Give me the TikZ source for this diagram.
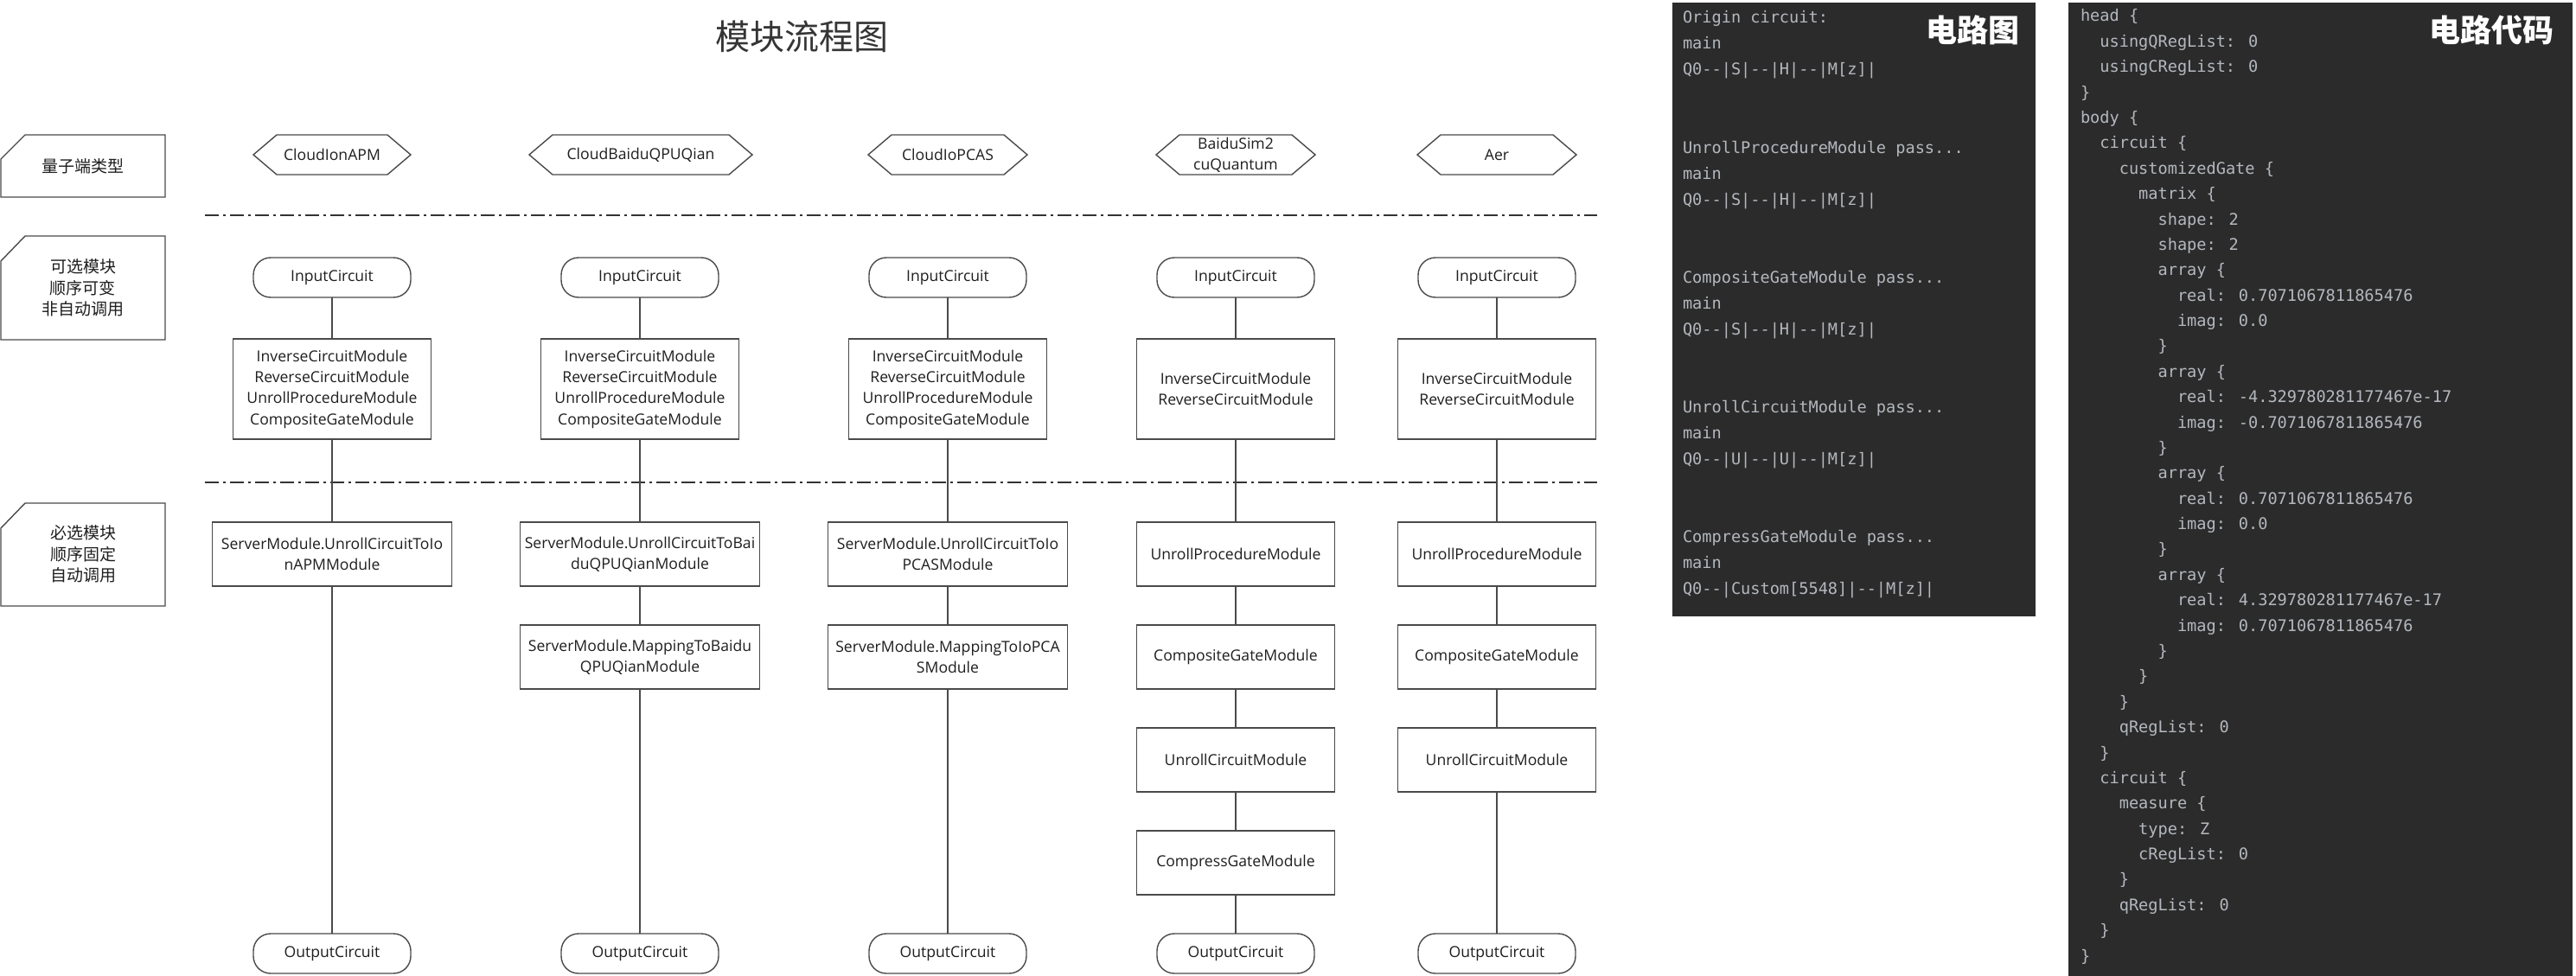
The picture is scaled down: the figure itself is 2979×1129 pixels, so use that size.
\documentclass[tikz,border=0pt]{standalone}
\usepackage{fontspec}
\setmainfont{Open Sans}
\newfontfamily\cjk{Noto Sans CJK SC}
\newfontfamily\codefont{DejaVu Sans Mono}
\usetikzlibrary{calc}

\definecolor{ink}{HTML}{1E1E1E}
\definecolor{edge}{HTML}{4A4A4A}
\definecolor{panel}{HTML}{2B2B2B}
\definecolor{code}{HTML}{B4B8BE}

% hexagon: centre x, centre y, half width, name, text
\newcommand\hexnode[5]{%
  \path[hexline] (#1-#3,#2) -- (#1-#3+27,#2-23) -- (#1+#3-27,#2-23)
    -- (#1+#3,#2) -- (#1+#3-27,#2+23) -- (#1-#3+27,#2+23) -- cycle;
  \node[hexlabel, minimum width=2*#3] (#4) at (#1,#2) {#5};}

\begin{document}
\begin{tikzpicture}[x=1pt,y=-1pt,
  every node/.style={inner sep=0pt, outer sep=0pt, text=ink},
  latin/.style={font=\fontsize{17.6}{24.3}\selectfont, align=center},
  modbox/.style={latin, draw=edge, line width=1.4pt, fill=white, minimum height=74pt},
  optbox/.style={modbox, minimum width=229pt, minimum height=116pt},
  srvbox/.style={modbox, minimum width=277pt},
  stdbox/.style={modbox, minimum width=229pt},
  terminal/.style={latin, draw=edge, line width=1.4pt, fill=white, rounded corners=20pt,
    minimum width=182pt, minimum height=46pt},
  hexlabel/.style={latin, minimum height=46pt},
  hexline/.style={draw=edge, line width=1.4pt, fill=white},
  tagline/.style={draw=edge, line width=1.4pt, fill=white},
  flow/.style={draw=edge, line width=1.3pt},
  divider/.style={draw=black!80, line width=2.4pt, dash pattern=on 16pt off 5pt on 3pt off 5pt},
  sidelabel/.style={font=\cjk\fontsize{19}{24.5}\selectfont, align=center},
  codeline/.style={font=\codefont\fontsize{18.6}{29.4}\selectfont, text=code, anchor=base west},
  panelhead/.style={font=\cjk\bfseries\fontsize{36}{36}\selectfont, text=white},
]
\useasboundingbox (0,0) rectangle (2979,1129);
\fill[white] (0,0) rectangle (2979,1129);

% title
\node[font=\cjk\fontsize{40}{40}\selectfont, text=ink!90] (title) at (927,42) {模块流程图};

% row labels on the left
\path[tagline] (29,156) -- (191,156) -- (191,228) -- (1,228) -- (1,184) -- cycle;
\node[sidelabel] (lab1) at (96,192) {量子端类型};
\path[tagline] (29,273) -- (191,273) -- (191,393) -- (1,393) -- (1,302) -- cycle;
\node[sidelabel] (lab2) at (96,333) {可选模块\\顺序可变\\非自动调用};
\path[tagline] (29,582) -- (191,582) -- (191,701) -- (1,701) -- (1,611) -- cycle;
\node[sidelabel] (lab3) at (96,641) {必选模块\\顺序固定\\自动调用};

% section dividers
\coordinate (dl1) at (237,249);
\coordinate (dr1) at (1847,249);
\coordinate (dl2) at (237,558);
\coordinate (dr2) at (1847,558);
\draw[divider] (dl1) -- (dr1);
\draw[divider] (dl2) -- (dr2);

% backend types
\hexnode{384}{179}{91}{h1}{CloudIonAPM}
\hexnode{741}{179}{129}{h2}{CloudBaiduQPUQian}
\hexnode{1096}{179}{92}{h3}{CloudIoPCAS}
\hexnode{1429}{179}{92}{h4}{BaiduSim2\\cuQuantum}
\hexnode{1731}{179}{92}{h5}{Aer}

% inputs
\node[terminal] (in1) at (384,321) {InputCircuit};
\node[terminal] (in2) at (740,321) {InputCircuit};
\node[terminal] (in3) at (1096,321) {InputCircuit};
\node[terminal] (in4) at (1429,321) {InputCircuit};
\node[terminal] (in5) at (1731,321) {InputCircuit};

% optional modules
\node[optbox] (opt1) at (384,450) {InverseCircuitModule\\ReverseCircuitModule\\UnrollProcedureModule\\CompositeGateModule};
\node[optbox] (opt2) at (740,450) {InverseCircuitModule\\ReverseCircuitModule\\UnrollProcedureModule\\CompositeGateModule};
\node[optbox] (opt3) at (1096,450) {InverseCircuitModule\\ReverseCircuitModule\\UnrollProcedureModule\\CompositeGateModule};
\node[optbox] (opt4) at (1429,450) {InverseCircuitModule\\ReverseCircuitModule};
\node[optbox] (opt5) at (1731,450) {InverseCircuitModule\\ReverseCircuitModule};

% required modules
\node[srvbox] (m1a) at (384,641) {ServerModule.UnrollCircuitToIo\\nAPMModule};
\node[srvbox] (m2a) at (740,641) {ServerModule.UnrollCircuitToBai\\duQPUQianModule};
\node[srvbox] (m2b) at (740,760) {ServerModule.MappingToBaidu\\QPUQianModule};
\node[srvbox] (m3a) at (1096,641) {ServerModule.UnrollCircuitToIo\\PCASModule};
\node[srvbox] (m3b) at (1096,760) {ServerModule.MappingToIoPCA\\SModule};
\node[stdbox] (m4a) at (1429,641) {UnrollProcedureModule};
\node[stdbox] (m4b) at (1429,760) {CompositeGateModule};
\node[stdbox] (m4c) at (1429,879) {UnrollCircuitModule};
\node[stdbox] (m4d) at (1429,998) {CompressGateModule};
\node[stdbox] (m5a) at (1731,641) {UnrollProcedureModule};
\node[stdbox] (m5b) at (1731,760) {CompositeGateModule};
\node[stdbox] (m5c) at (1731,879) {UnrollCircuitModule};

% outputs
\node[terminal] (out1) at (384,1103) {OutputCircuit};
\node[terminal] (out2) at (740,1103) {OutputCircuit};
\node[terminal] (out3) at (1096,1103) {OutputCircuit};
\node[terminal] (out4) at (1429,1103) {OutputCircuit};
\node[terminal] (out5) at (1731,1103) {OutputCircuit};

% flows
\draw[flow] (in1) -- (opt1);
\draw[flow] (opt1) -- (m1a);
\draw[flow] (m1a) -- (out1);
\draw[flow] (in2) -- (opt2);
\draw[flow] (opt2) -- (m2a);
\draw[flow] (m2a) -- (m2b);
\draw[flow] (m2b) -- (out2);
\draw[flow] (in3) -- (opt3);
\draw[flow] (opt3) -- (m3a);
\draw[flow] (m3a) -- (m3b);
\draw[flow] (m3b) -- (out3);
\draw[flow] (in4) -- (opt4);
\draw[flow] (opt4) -- (m4a);
\draw[flow] (m4a) -- (m4b);
\draw[flow] (m4b) -- (m4c);
\draw[flow] (m4c) -- (m4d);
\draw[flow] (m4d) -- (out4);
\draw[flow] (in5) -- (opt5);
\draw[flow] (opt5) -- (m5a);
\draw[flow] (m5a) -- (m5b);
\draw[flow] (m5b) -- (m5c);
\draw[flow] (m5c) -- (out5);

% pass log panel
\fill[panel] (1934,3) rectangle (2354,713);
\node[panelhead] (ph1) at (2281,35) {电路图};
\foreach \yy/\tt in {
  21/{Origin circuit:}, 51/main, 81/{Q0-{}-|S|-{}-|H|-{}-|M[z]|},
  171/{UnrollProcedureModule pass...}, 201/main, 231/{Q0-{}-|S|-{}-|H|-{}-|M[z]|},
  321/{CompositeGateModule pass...}, 351/main, 381/{Q0-{}-|S|-{}-|H|-{}-|M[z]|},
  471/{UnrollCircuitModule pass...}, 501/main, 531/{Q0-{}-|U|-{}-|U|-{}-|M[z]|},
  621/{CompressGateModule pass...}, 651/main, 681/{Q0-{}-|Custom[5548]|-{}-|M[z]|}}
  \node[codeline] at (1946,\yy+6) {\tt};

% circuit code panel
\fill[panel] (2392,3) rectangle (2975,1129);
\node[panelhead] (ph2) at (2881,35) {电路代码};
\foreach \ind/\tt [count=\k from 0] in {
  0/{head \{}, 2/{usingQRegList: 0}, 2/{usingCRegList: 0}, 0/{\}},
  0/{body \{}, 2/{circuit \{}, 4/{customizedGate \{}, 6/{matrix \{},
  8/{shape: 2}, 8/{shape: 2},
  8/{array \{}, 10/{real: 0.7071067811865476}, 10/{imag: 0.0}, 8/{\}},
  8/{array \{}, 10/{real: -4.329780281177467e-17}, 10/{imag: -0.7071067811865476}, 8/{\}},
  8/{array \{}, 10/{real: 0.7071067811865476}, 10/{imag: 0.0}, 8/{\}},
  8/{array \{}, 10/{real: 4.329780281177467e-17}, 10/{imag: 0.7071067811865476}, 8/{\}},
  6/{\}}, 4/{\}}, 4/{qRegList: 0}, 2/{\}},
  2/{circuit \{}, 4/{measure \{}, 6/{type: Z}, 6/{cRegList: 0}, 4/{\}},
  4/{qRegList: 0}, 2/{\}}, 0/{\}}}
  \node[codeline] at (2406+11.2*\ind,19+29.38*\k+6) {\tt};
\end{tikzpicture}
\end{document}
